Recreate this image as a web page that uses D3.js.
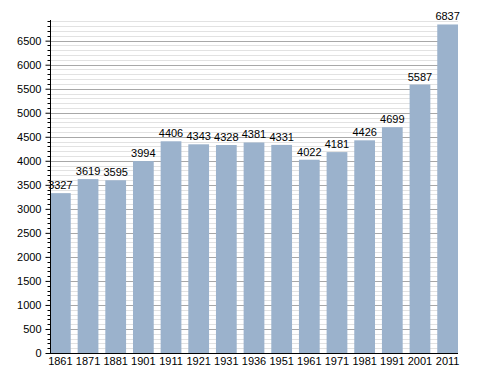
<!DOCTYPE html>
<html>
<head>
<meta charset="utf-8">
<script src="https://cdn.jsdelivr.net/npm/d3@7"></script>
<style>
body{margin:0;background:#fff;}
text{font-family:"Liberation Sans",Arial,sans-serif;font-size:11px;fill:#000;}
</style>
</head>
<body>
<script>
// population data
var years=['1861','1871','1881','1901','1911','1921','1931','1936','1951','1961','1971','1981','1991','2001','2011'];
var population=[3327,3619,3595,3994,4406,4343,4328,4381,4331,4022,4181,4426,4699,5587,6837];
var yMajorTicks=[0,500,1000,1500,2000,2500,3000,3500,4000,4500,5000,5500,6000,6500];

var width=488,height=373;
var mLeft=50,mRight=458,mTop=20,mBottom=353;

var svg=d3.select('body').append('svg').attr('width',width).attr('height',height);

var x=d3.scaleBand().domain(years).range([mLeft,mRight]).paddingInner(0.25).paddingOuter(0);
var y=d3.scaleLinear().domain([0,6930]).range([mBottom,mTop]);

var minor=d3.range(100,6930,100).filter(v=>v%500!=0);

// minor grid
svg.append('g').selectAll('line').data(minor).join('line')
  .attr('x1',mLeft).attr('x2',mRight)
  .attr('y1',d=>Math.round(y(d))+0.5).attr('y2',d=>Math.round(y(d))+0.5)
  .style('stroke','#e2e2e2').style('stroke-width',1);
// major grid
svg.append('g').selectAll('line').data(yMajorTicks.slice(1)).join('line')
  .attr('x1',mLeft).attr('x2',mRight)
  .attr('y1',d=>Math.round(y(d))+0.5).attr('y2',d=>Math.round(y(d))+0.5)
  .style('stroke','#a8a8a8').style('stroke-width',1);

// bars
svg.append('g').selectAll('rect').data(years).join('rect')
  .attr('x',d=>x(d)).attr('width',x.bandwidth())
  .attr('y',(d,i)=>y(population[i])).attr('height',(d,i)=>mBottom-y(population[i]))
  .style('fill','#9bb2cc');

// value labels
svg.append('g').selectAll('text').data(years).join('text')
  .attr('x',d=>x(d)+x.bandwidth()/2).attr('y',(d,i)=>y(population[i])-4)
  .attr('text-anchor','middle')
  .text((d,i)=>population[i]);

// y axis
var yAxis=d3.axisLeft(y).tickValues(yMajorTicks).tickSize(5).tickPadding(4).tickFormat(d3.format('d'));
var ya=svg.append('g').attr('transform','translate('+(mLeft+0.5)+',0)').call(yAxis);
ya.select('.domain').attr('d','M0,'+mTop+'V'+mBottom).style('stroke','#000');
ya.selectAll('.tick line').style('stroke','#000');
ya.selectAll('.tick text').style('font-size','11px');
svg.append('g').selectAll('line').data(minor).join('line')
  .attr('x1',mLeft-2.5).attr('x2',mLeft+0.5)
  .attr('y1',d=>Math.round(y(d))+0.5).attr('y2',d=>Math.round(y(d))+0.5)
  .style('stroke','#000');

// x axis
var xAxis=d3.axisBottom(x).tickSize(0).tickPadding(4);
var xa=svg.append('g').attr('transform','translate(0,'+(mBottom+0.5)+')').call(xAxis);
xa.select('.domain').attr('d','M'+mLeft+',0H'+mRight).style('stroke','#000');
xa.selectAll('.tick text').style('font-size','11px');
</script>
</body>
</html>
